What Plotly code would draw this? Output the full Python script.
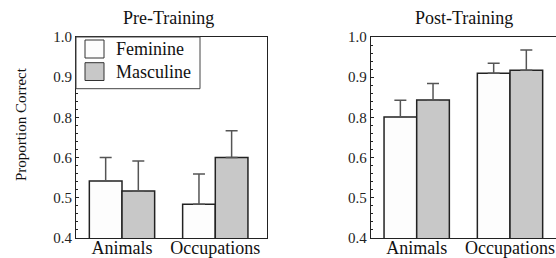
import plotly.graph_objects as go

categories = ["Animals", "Occupations"]
series_names = ["Feminine", "Masculine"]

pre_feminine = [0.570, 0.501]
pre_feminine_err = [0.070, 0.090]
pre_masculine = [0.540, 0.640]
pre_masculine_err = [0.090, 0.080]

post_feminine = [0.761, 0.892]
post_feminine_err = [0.050, 0.030]
post_masculine = [0.812, 0.901]
post_masculine_err = [0.049, 0.060]

tick_vals = [0.4, 0.52, 0.64, 0.76, 0.88, 1.0]
tick_text = ["0.4", "0.5", "0.6", "0.8", "0.9", "1.0"]

W, H = 556, 258
FONT = "Liberation Serif"
fills = {"Feminine": "#fdfdfd", "Masculine": "#c8c8c8"}

def px(x):
    return x / W

def py(y):
    return (H - y) / H

fig = go.Figure()

def add_bars(vals, errs, name, xa, ya):
    fig.add_trace(go.Bar(
        x=categories, y=vals, name=name, xaxis=xa, yaxis=ya,
        offsetgroup=name, showlegend=False, hoverinfo="skip",
        marker=dict(color=fills[name], line=dict(color="#222222", width=1.5)),
        error_y=dict(type="data", symmetric=False, array=errs,
                     arrayminus=[0] * len(errs), color="#555555",
                     thickness=1.5, width=6),
    ))

add_bars(pre_feminine, pre_feminine_err, "Feminine", "x", "y")
add_bars(pre_masculine, pre_masculine_err, "Masculine", "x", "y")
add_bars(post_feminine, post_feminine_err, "Feminine", "x2", "y2")
add_bars(post_masculine, post_masculine_err, "Masculine", "x2", "y2")

ydom = [py(238), py(37)]
yax = dict(
    range=[0.4, 1.0], domain=ydom, tickmode="array", tickvals=tick_vals,
    ticktext=tick_text, ticks="inside", ticklen=3, tickwidth=1,
    tickcolor="#222", showline=True, linecolor="#222", linewidth=1,
    showgrid=False, zeroline=False, automargin=False,
    tickfont=dict(family=FONT, size=15, color="#222"),
    minor=dict(tickmode="linear", tick0=0.4, dtick=0.024, ticks="inside",
               ticklen=2, tickcolor="#222", showgrid=False),
)
xax = dict(
    type="category", showline=True, linecolor="#222", linewidth=1,
    showgrid=False, zeroline=False, ticks="", ticklen=0, automargin=False,
    ticklabelstandoff=-7,
    tickfont=dict(family=FONT, size=18, color="#111"),
)

fig.update_layout(
    width=W, height=H,
    margin=dict(l=0, r=0, t=0, b=0),
    paper_bgcolor="white", plot_bgcolor="white",
    barmode="group", bargap=0.3, bargroupgap=0,
    showlegend=False,
    xaxis=dict(xax, domain=[px(76), px(266.7)], range=[-0.493, 1.551],
               anchor="y", mirror=True),
    yaxis=dict(yax, anchor="x", mirror=True),
    xaxis2=dict(xax, domain=[px(370.7), 1.0], range=[-0.493, 1.493],
                anchor="y2", mirror=True),
    yaxis2=dict(yax, anchor="x2", mirror=False),
    font=dict(family=FONT, color="#111"),
)

annotations = [
    dict(text="Pre-Training", x=px(168), y=py(18), xref="paper", yref="paper",
         showarrow=False, font=dict(family=FONT, size=18, color="#111"),
         xanchor="center", yanchor="middle"),
    dict(text="Post-Training", x=px(463.5), y=py(18), xref="paper", yref="paper",
         showarrow=False, font=dict(family=FONT, size=18, color="#111"),
         xanchor="center", yanchor="middle"),
    dict(text="Proportion Correct", x=px(21), y=py(124), xref="paper", yref="paper",
         showarrow=False, textangle=-90, font=dict(family=FONT, size=15, color="#111"),
         xanchor="center", yanchor="middle"),
]

# Legend (drawn manually to match the boxed legend in the reference)
shapes = [
    dict(type="rect", xref="paper", yref="paper", x0=px(76), x1=px(200),
         y0=py(88.7), y1=py(37), fillcolor="white",
         line=dict(color="#444", width=1), layer="above"),
]
legend_rows = [(series_names[0], 40, 58, 49), (series_names[1], 62.7, 80.5, 71.5)]
for name, top, bot, mid in legend_rows:
    shapes.append(dict(type="rect", xref="paper", yref="paper", x0=px(85), x1=px(104),
                       y0=py(bot), y1=py(top), fillcolor=fills[name],
                       line=dict(color="#333", width=1), layer="above"))
    annotations.append(dict(text=name, x=px(114), y=py(mid), xref="paper", yref="paper",
                            showarrow=False, xanchor="left", yanchor="middle",
                            font=dict(family=FONT, size=18, color="#111")))

fig.update_layout(annotations=annotations, shapes=shapes)
fig.write_html("out.html", config={"displayModeBar": False},
               post_script="document.body.style.margin='0';document.body.style.padding='0';")
